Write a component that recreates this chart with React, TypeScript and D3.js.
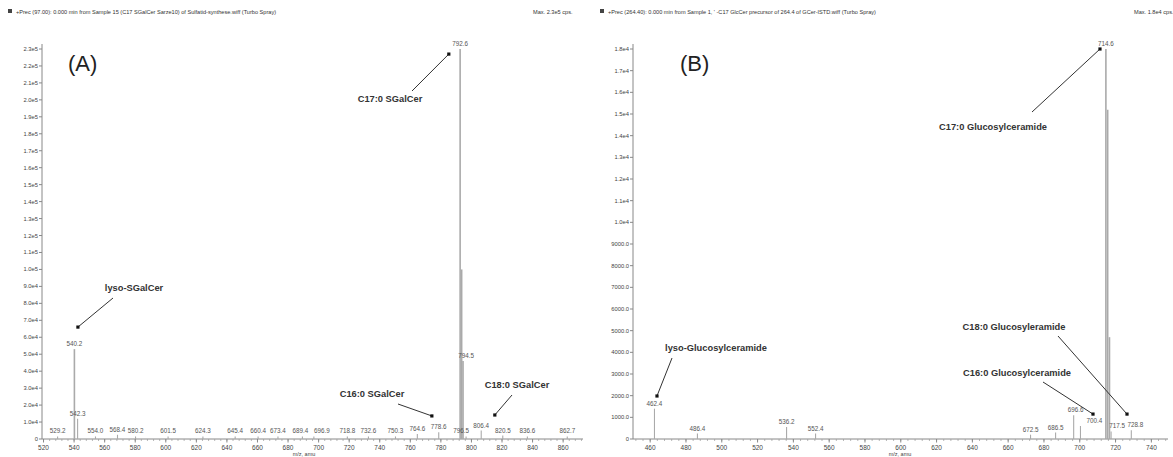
import React from "react";
import * as d3 from "d3";

// ---- panel A: SGalCer precursor scan
const leftMz = [529.2, 540.2, 542.3, 554.0, 568.4, 580.2, 601.5, 624.3, 645.4, 660.4, 673.4, 689.4, 696.9, 718.8, 732.6, 750.3, 764.6, 778.6, 796.5, 792.6, 793.6, 794.5, 806.4, 820.5, 836.6, 862.7];
const leftInt = [1500, 53000, 12000, 1500, 2500, 1500, 1500, 1500, 1500, 1500, 1500, 1500, 1500, 1500, 1500, 1500, 3000, 4000, 1500, 230000, 100000, 46000, 5000, 2000, 1500, 1500];
const leftLabeled = [true, true, true, true, true, true, true, true, true, true, true, true, true, true, true, true, true, true, true, true, false, true, true, true, true, true];
const leftLabelDx = [0, 0, 0, 0, 0, 0, 0, 0, 0, 0, 0, -2, 8, 0, 0, 0, 0, 0, -5, 0, 0, 3, 0, 0, 0, 0];
const leftXTicks = [520, 540, 560, 580, 600, 620, 640, 660, 680, 700, 720, 740, 760, 780, 800, 820, 840, 860];
const leftYTicks = d3.range(0, 230001, 10000);
const leftYTickLabels = ["0", "1.0e4", "2.0e4", "3.0e4", "4.0e4", "5.0e4", "6.0e4", "7.0e4", "8.0e4", "9.0e4", "1.0e5", "1.1e5", "1.2e5", "1.3e5", "1.4e5", "1.5e5", "1.6e5", "1.7e5", "1.8e5", "1.9e5", "2.0e5", "2.1e5", "2.2e5", "2.3e5"];

// ---- panel B: GlcCer precursor scan
const rightMz = [462.4, 486.4, 536.2, 552.4, 672.5, 686.5, 696.6, 700.4, 714.6, 715.6, 716.6, 717.5, 728.8];
const rightInt = [1400, 250, 550, 250, 200, 300, 1100, 600, 18000, 15200, 4700, 350, 400];
const rightLabeled = [true, true, true, true, true, true, true, true, true, false, false, true, true];
const rightLabelDx = [0, 0, 0, 0, 0, 0, 2, 14, 0, 0, 0, 6, 4];
const rightXTicks = [460, 480, 500, 520, 540, 560, 580, 600, 620, 640, 660, 680, 700, 720, 740];
const rightYTicks = d3.range(0, 18001, 1000);
const rightYTickLabels = ["0", "1000.0", "2000.0", "3000.0", "4000.0", "5000.0", "6000.0", "7000.0", "8000.0", "9000.0", "1.0e4", "1.1e4", "1.2e4", "1.3e4", "1.4e4", "1.5e4", "1.6e4", "1.7e4", "1.8e4"];

// annotations: label, arrow tip in data units
const leftNotes = [
  { text: "lyso-SGalCer", tip: [542.5, 66000], tail: [113, 298], tx: 134, ty: 291 },
  { text: "C17:0 SGalCer", tip: [785.2, 227000], tail: [412, 91], tx: 390, ty: 102 },
  { text: "C16:0 SGalCer", tip: [774.1, 13600], tail: [398, 404], tx: 372, ty: 397 },
  { text: "C18:0 SGalCer", tip: [815.3, 14150], tail: [512, 395], tx: 517, ty: 388 },
];
const rightNotes = [
  { text: "lyso-Glucosylceramide", tip: [463.8, 1985], tail: [672, 358], tx: 716, ty: 351 },
  { text: "C17:0 Glucosylceramide", tip: [711.3, 18000], tail: [1032, 112], tx: 993, ty: 130 },
  { text: "C18:0 Glucosyleramide", tip: [726.4, 1150], tail: [1058, 336], tx: 1014, ty: 330 },
  { text: "C16:0 Glucosylceramide", tip: [707.4, 1150], tail: [1043, 382], tx: 1017, ty: 376 },
];

const FONT = "'Liberation Sans', Arial, sans-serif";
const BASE = 439;

type Note = { text: string; tip: number[]; tail: number[]; tx: number; ty: number };

function Panel(props: {
  mz: number[]; ints: number[]; labeled: boolean[]; labelDx: number[];
  xTicks: number[]; yTicks: number[]; yLabels: string[];
  xDomain: [number, number]; xRange: [number, number];
  yMax: number; yTop: number; notes: Note[]; tag: string; tagX: number;
  header: string; maxText: string; headerX: number; maxX: number; unitX: number;
}) {
  const x = d3.scaleLinear().domain(props.xDomain).range(props.xRange);
  const y = d3.scaleLinear().domain([0, props.yMax]).range([BASE, props.yTop]);
  const [x0, x1] = props.xRange;
  const minor = d3.range(Math.ceil(props.xDomain[0] / 4) * 4, props.xDomain[1], 4);
  return (
    <g fontFamily={FONT}>
      <rect x={props.headerX} y={9} width={4} height={4} fill="#444" />
      <text x={props.headerX + 8} y={13.5} fontSize={5.6} fill="#333">{props.header}</text>
      <text x={props.maxX} y={13.5} fontSize={5.6} fill="#333">{props.maxText}</text>
      <text x={props.tagX} y={71} fontSize={22} fill="#222">{props.tag}</text>
      {/* y axis */}
      <line x1={x0} x2={x0} y1={44} y2={BASE} stroke="#888" strokeWidth={1} />
      {props.yTicks.map((t, i) => (
        <g key={"y" + i}>
          <line x1={x0 - 3} x2={x0} y1={y(t)} y2={y(t)} stroke="#888" />
          <text x={x0 - 4} y={y(t) + 2} fontSize={5.8} textAnchor="end" fill="#444">{props.yLabels[i]}</text>
        </g>
      ))}
      {/* x axis */}
      <line x1={x0} x2={x1} y1={BASE} y2={BASE} stroke="#888" strokeWidth={1} />
      {minor.map((t) => (
        <line key={"m" + t} x1={x(t)} x2={x(t)} y1={BASE} y2={BASE + 2} stroke="#999" strokeWidth={0.7} />
      ))}
      {props.xTicks.map((t) => (
        <g key={"x" + t}>
          <line x1={x(t)} x2={x(t)} y1={BASE} y2={BASE + 3.5} stroke="#888" />
          <text x={x(t)} y={450} fontSize={6.5} textAnchor="middle" fill="#444">{t}</text>
        </g>
      ))}
      <text x={props.unitX} y={456} fontSize={5.5} textAnchor="middle" fill="#444">m/z, amu</text>
      {/* peaks */}
      {props.mz.map((m, i) => (
        <line key={"p" + i} x1={x(m)} x2={x(m)} y1={BASE} y2={y(props.ints[i])}
          stroke="#aaa" strokeWidth={props.ints[i] > props.yMax * 0.1 ? 1.6 : 1.1} />
      ))}
      {props.mz.map((m, i) => props.labeled[i] ? (
        <text key={"l" + i} x={x(m) + props.labelDx[i]} y={y(props.ints[i]) - 3} fontSize={6.3} textAnchor="middle" fill="#555">{m.toFixed(1)}</text>
      ) : null)}
      {/* annotations */}
      {props.notes.map((n, i) => {
        const px = x(n.tip[0]);
        const py = y(n.tip[1]);
        return (
          <g key={"n" + i}>
            <line x1={n.tail[0]} y1={n.tail[1]} x2={px} y2={py} stroke="#333" strokeWidth={1} />
            <rect x={px - 1.6} y={py - 1.6} width={3.2} height={3.2} fill="#111" />
            <text x={n.tx} y={n.ty} fontSize={9.3} fontWeight="bold" textAnchor="middle" fill="#333">{n.text}</text>
          </g>
        );
      })}
    </g>
  );
}

export default function App() {
  return (
    <svg width={1173} height={457} style={{ position: "absolute", left: 0, top: 0, background: "#fff" }}>
      <rect width={1173} height={457} fill="#fff" />
      <Panel mz={leftMz} ints={leftInt} labeled={leftLabeled} labelDx={leftLabelDx} xTicks={leftXTicks}
        yTicks={leftYTicks} yLabels={leftYTickLabels} xDomain={[519, 873]} xRange={[42, 583]}
        yMax={230000} yTop={49} notes={leftNotes} tag="(A)" tagX={68} unitX={304}
        header="+Prec (97.00): 0.000 min from Sample 15 (C17 SGalCer Sarze10) of Sulfatid-synthese.wiff (Turbo Spray)"
        maxText="Max. 2.3e5 cps." headerX={8} maxX={533} />
      <Panel mz={rightMz} ints={rightInt} labeled={rightLabeled} labelDx={rightLabelDx} xTicks={rightXTicks}
        yTicks={rightYTicks} yLabels={rightYTickLabels} xDomain={[450.4, 749.3]} xRange={[633, 1168]}
        yMax={18000} yTop={49} notes={rightNotes} tag="(B)" tagX={680} unitX={900}
        header="+Prec (264.40): 0.000 min from Sample 1, ' -C17 GlcCer precursor of 264.4 of GCer-ISTD.wiff (Turbo Spray)"
        maxText="Max. 1.8e4 cps." headerX={600} maxX={1134} />
    </svg>
  );
}
